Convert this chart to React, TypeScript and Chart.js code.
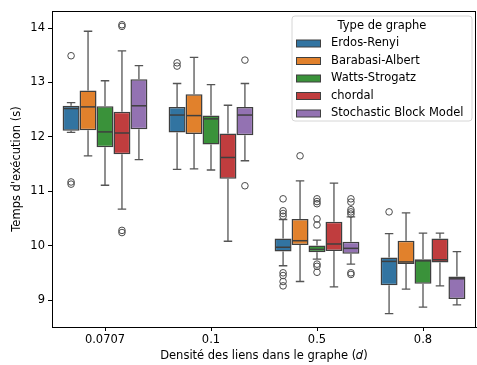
import React, { useEffect, useRef } from "react";
import { Chart, registerables } from "chart.js";

Chart.register(...registerables);

// Categories (x axis)
const densities = ["0.0707", "0.1", "0.5", "0.8"];
// Y ticks
const yTicks = [9, 10, 11, 12, 13, 14];

// Series names and colours
const seriesNames = ["Erdos-Renyi", "Barabasi-Albert", "Watts-Strogatz", "chordal", "Stochastic Block Model"];
const seriesColors = ["#3274a1", "#e1812c", "#3a923a", "#c03d3e", "#9372b2"];

// Box statistics per category: [lower whisker, Q1, median, Q3, upper whisker]
const erdosRenyiStats = [
  [12.08, 12.11, 12.52, 12.57, 12.63],
  [11.40, 12.08, 12.40, 12.55, 12.98],
  [9.63, 9.89, 9.97, 10.13, 10.48],
  [8.75, 9.27, 9.71, 9.78, 10.22],
];
const barabasiAlbertStats = [
  [11.65, 12.12, 12.55, 12.85, 13.94],
  [11.41, 12.05, 12.39, 12.78, 13.46],
  [9.34, 10.01, 10.09, 10.49, 11.19],
  [9.20, 9.66, 9.70, 10.09, 10.60],
];
const wattsStrogatzStats = [
  [11.11, 11.81, 12.09, 12.56, 13.03],
  [11.39, 11.86, 12.33, 12.39, 12.96],
  [9.75, 9.88, 9.93, 10.00, 10.10],
  [8.87, 9.30, 9.72, 9.75, 10.23],
];
const chordalStats = [
  [10.67, 11.68, 12.07, 12.46, 13.58],
  [10.08, 11.23, 11.62, 12.06, 12.58],
  [9.24, 9.90, 10.03, 10.44, 11.15],
  [9.26, 9.69, 9.74, 10.13, 10.23],
];
const sbmStats = [
  [11.58, 12.14, 12.57, 13.06, 13.31],
  [11.56, 12.03, 12.40, 12.55, 12.98],
  [9.66, 9.85, 9.95, 10.07, 10.53],
  [8.91, 9.02, 9.39, 9.43, 9.89],
];

// Outliers per category
const erdosRenyiOutliers = [
  [13.49, 11.17, 11.13],
  [13.36, 13.30],
  [10.86, 10.64, 10.59, 10.54, 9.50, 9.45, 9.34, 9.26],
  [10.62],
];
const barabasiAlbertOutliers = [[], [], [11.65], []];
const wattsStrogatzOutliers = [
  [],
  [],
  [10.86, 10.81, 10.77, 10.49, 10.38, 9.66, 9.62, 9.51],
  [],
];
const chordalOutliers = [[14.06, 14.03, 10.28, 10.24], [], [], []];
const sbmOutliers = [
  [],
  [13.41, 11.10],
  [10.86, 10.80, 10.66, 10.62, 10.58, 9.50, 9.47],
  [],
];

const allStats = [erdosRenyiStats, barabasiAlbertStats, wattsStrogatzStats, chordalStats, sbmStats];
const allOutliers = [erdosRenyiOutliers, barabasiAlbertOutliers, wattsStrogatzOutliers, chordalOutliers, sbmOutliers];

const FONT = "'DejaVu Sans', sans-serif";
const FS = 11.5;
const LINE = "#3f3f3f";
const WHISKER = "#555555";

const boxPlugin = {
  id: "boxExtras",
  beforeDatasetsDraw(chart: any) {
    const ctx = chart.ctx;
    const y = chart.scales.y;
    ctx.save();
    ctx.strokeStyle = WHISKER;
    ctx.lineWidth = 1.3;
    allStats.forEach((stats, i) => {
      const meta = chart.getDatasetMeta(i);
      stats.forEach((s, j) => {
        const bar = meta.data[j];
        if (!bar) return;
        const x = bar.x;
        const w = bar.width;
        const lo = y.getPixelForValue(s[0]);
        const q1 = y.getPixelForValue(s[1]);
        const q3 = y.getPixelForValue(s[3]);
        const hi = y.getPixelForValue(s[4]);
        ctx.beginPath();
        ctx.moveTo(x, q3);
        ctx.lineTo(x, hi);
        ctx.moveTo(x, q1);
        ctx.lineTo(x, lo);
        ctx.moveTo(x - w / 4, hi);
        ctx.lineTo(x + w / 4, hi);
        ctx.moveTo(x - w / 4, lo);
        ctx.lineTo(x + w / 4, lo);
        ctx.stroke();
      });
    });
    ctx.restore();
  },
  afterDatasetsDraw(chart: any) {
    const ctx = chart.ctx;
    const y = chart.scales.y;
    ctx.save();
    allStats.forEach((stats, i) => {
      const meta = chart.getDatasetMeta(i);
      stats.forEach((s, j) => {
        const bar = meta.data[j];
        if (!bar) return;
        const x = bar.x;
        const w = bar.width;
        const med = y.getPixelForValue(s[2]);
        ctx.strokeStyle = LINE;
        ctx.lineWidth = 1.5;
        ctx.beginPath();
        ctx.moveTo(x - w / 2 + 0.75, med);
        ctx.lineTo(x + w / 2 - 0.75, med);
        ctx.stroke();
        ctx.strokeStyle = "#4a4a4a";
        ctx.lineWidth = 1;
        allOutliers[i][j].forEach((v) => {
          const py = y.getPixelForValue(v);
          ctx.beginPath();
          ctx.arc(x, py, 3.3, 0, Math.PI * 2);
          ctx.stroke();
        });
      });
    });
    ctx.restore();
  },
  afterDraw(chart: any) {
    const ctx = chart.ctx;
    const a = chart.chartArea;
    ctx.save();
    // top and right spines
    ctx.strokeStyle = "#000";
    ctx.lineWidth = 1;
    ctx.beginPath();
    ctx.moveTo(a.left, a.top + 0.5);
    ctx.lineTo(a.right, a.top + 0.5);
    ctx.moveTo(a.right - 0.5, a.top);
    ctx.lineTo(a.right - 0.5, a.bottom);
    ctx.stroke();

    // legend
    const lx = 292, ly = 16, lw = 180, lh = 105;
    const r = 3;
    ctx.beginPath();
    ctx.moveTo(lx + r, ly);
    ctx.lineTo(lx + lw - r, ly);
    ctx.quadraticCurveTo(lx + lw, ly, lx + lw, ly + r);
    ctx.lineTo(lx + lw, ly + lh - r);
    ctx.quadraticCurveTo(lx + lw, ly + lh, lx + lw - r, ly + lh);
    ctx.lineTo(lx + r, ly + lh);
    ctx.quadraticCurveTo(lx, ly + lh, lx, ly + lh - r);
    ctx.lineTo(lx, ly + r);
    ctx.quadraticCurveTo(lx, ly, lx + r, ly);
    ctx.closePath();
    ctx.fillStyle = "rgba(255,255,255,0.8)";
    ctx.fill();
    ctx.strokeStyle = "#d6d6d6";
    ctx.lineWidth = 1;
    ctx.stroke();

    ctx.fillStyle = "#000";
    ctx.font = `${FS}px ${FONT}`;
    ctx.textAlign = "center";
    ctx.textBaseline = "middle";
    ctx.fillText("Type de graphe", lx + lw / 2, 26);
    ctx.textAlign = "left";
    seriesNames.forEach((name, i) => {
      const cy = 43.5 + i * 17.5;
      ctx.fillStyle = seriesColors[i];
      ctx.fillRect(296, cy - 3.5, 25, 7);
      ctx.strokeStyle = LINE;
      ctx.lineWidth = 1;
      ctx.strokeRect(296.5, cy - 3.5, 24, 7);
      ctx.fillStyle = "#000";
      ctx.fillText(name, 331, cy);
    });
    ctx.restore();
  },
};

export default function App() {
  const ref = useRef<HTMLCanvasElement | null>(null);
  useEffect(() => {
    document.body.style.margin = "0";
    if (!ref.current) return;
    const chart = new Chart(ref.current, {
      type: "bar",
      data: {
        labels: densities,
        datasets: seriesNames.map((name, i) => ({
          label: name,
          data: allStats[i].map((s) => [s[1], s[3]]),
          backgroundColor: seriesColors[i],
          borderColor: LINE,
          borderWidth: 1.5,
          borderSkipped: false,
          categoryPercentage: 0.8,
          barPercentage: 1.0,
        })),
      } as any,
      options: {
        responsive: false,
        animation: false,
        layout: { padding: { top: 11, right: 1, left: 0, bottom: 0 } },
        plugins: {
          legend: { display: false },
          tooltip: { enabled: false },
        },
        scales: {
          x: {
            type: "category",
            grid: { display: true, offset: false, drawOnChartArea: false, tickLength: 4, color: "#000", tickWidth: 1 },
            border: { display: true, color: "#000", width: 1 },
            ticks: { color: "#000", font: { family: FONT, size: FS }, padding: 2 },
            title: {
              display: true,
              text: "Densité des liens dans le graphe (𝑑)",
              color: "#000",
              font: { family: FONT, size: FS },
              padding: { top: 0, bottom: 2 },
            },
            afterFit: (s: any) => { s.height = 38; },
          },
          y: {
            type: "linear",
            min: 8.504,
            max: 14.3125,
            afterBuildTicks: (s: any) => { s.ticks = yTicks.map((v) => ({ value: v })); },
            grid: { display: true, drawOnChartArea: false, tickLength: 4, color: "#000", tickWidth: 1 },
            border: { display: true, color: "#000", width: 1 },
            ticks: { color: "#000", font: { family: FONT, size: FS }, padding: 3 },
            title: {
              display: true,
              text: "Temps d'exécution (s)",
              color: "#000",
              font: { family: FONT, size: FS },
              padding: { top: 10, bottom: 0 },
            },
            afterFit: (s: any) => { s.width = 52; },
          },
        },
      } as any,
      plugins: [boxPlugin],
    });
    return () => chart.destroy();
  }, []);
  return (
    <div style={{ width: 477, height: 365 }}>
      <canvas ref={ref} width={477} height={365} />
    </div>
  );
}
